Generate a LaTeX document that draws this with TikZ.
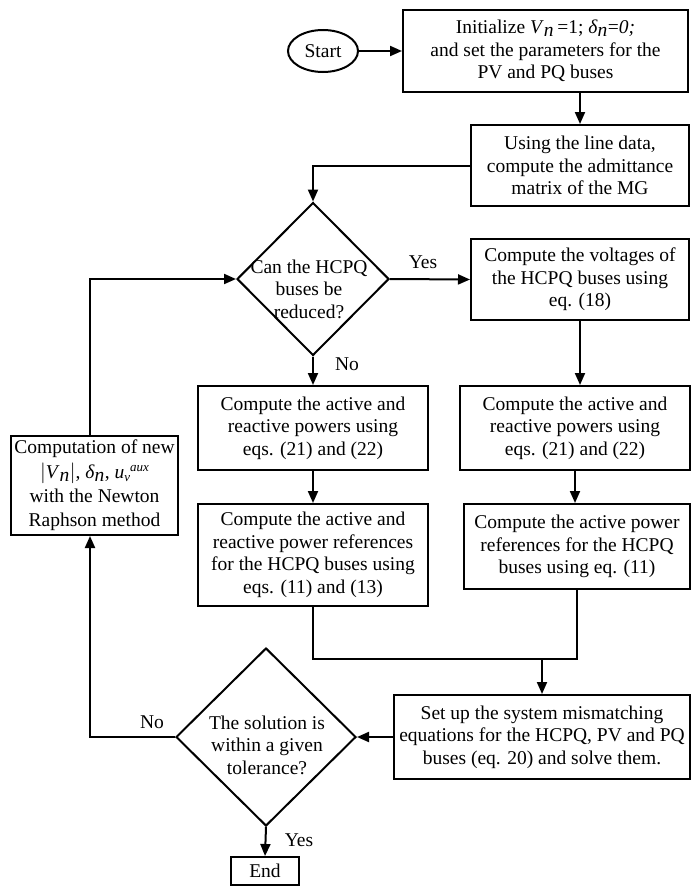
\documentclass[tikz,border=0pt]{standalone}
\usepackage{fontspec}
\setmainfont{Liberation Serif}
\usetikzlibrary{arrows.meta,shapes.geometric}
\newcommand{\supaux}{\raisebox{-0.35ex}{\fontsize{13}{13}\selectfont\itshape v}\raisebox{0.85ex}{\fontsize{13}{13}\selectfont\itshape aux}}
\begin{document}
\begin{tikzpicture}[x=1pt,y=-1pt,line width=2pt,
  txt/.style={font=\fontsize{19.5}{22.5}\selectfont},
  box/.style={txt,draw,rectangle,align=center,inner sep=1pt},
  dia/.style={draw,diamond,inner sep=0pt},
  arr/.style={-{Triangle[length=12pt,width=10pt]}},
  lbl/.style={txt}
]
\useasboundingbox (0,0) rectangle (691,886);

\node[txt,draw,ellipse,minimum width=70,minimum height=42,inner sep=0pt] (start) at (323,51) {Start};
\node[box,minimum width=285,minimum height=82] (init) at (545.5,51)
  {Initialize \textit{V}$_{\textit{n}}$\,=1; \textit{δ}$_{\textit{n}}$=\textit{0;}\\and set the parameters for the\\PV and PQ buses};
\node[box,minimum width=218,minimum height=81] (adm) at (580,165.5)
  {Using the line data,\\compute the admittance\\matrix of the MG};
\node[dia,minimum width=152,minimum height=153] (d1) at (313,279) {};
\node[txt,align=center] at (309,289) {Can the HCPQ\\buses be\\reduced?};
\node[box,minimum width=218,minimum height=81] (volt) at (580,279.5)
  {Compute the voltages of\\the HCPQ buses using\\eq. (18)};
\node[box,minimum width=230,minimum height=84] (L1) at (313,428)
  {Compute the active and\\reactive powers using\\eqs. (21) and (22)};
\node[box,minimum width=230,minimum height=84] (R2) at (575,428)
  {Compute the active and\\reactive powers using\\eqs. (21) and (22)};
\node[box,minimum width=230,minimum height=102] (L2) at (313,555)
  {Compute the active and\\reactive power references\\for the HCPQ buses using\\eqs. (11) and (13)};
\node[box,minimum width=226,minimum height=85] (R3) at (577,546.5)
  {Compute the active power\\references for the HCPQ\\buses using eq. (11)};
\node[box,minimum width=296,minimum height=84] (mis) at (542,737)
  {Set up the system mismatching\\equations for the HCPQ, PV and PQ\\buses (eq. 20) and solve them.};
\node[dia,minimum width=180,minimum height=178] (d2) at (266,737) {};
\node[txt,align=center] at (267,745) {The solution is\\within a given\\tolerance?};
\node[box,minimum width=68,minimum height=28,inner sep=0pt] (end) at (265,871) {End};
\node[box,font=\fontsize{19.5}{24}\selectfont,minimum width=167,minimum height=99,inner sep=0pt] (nr) at (94.5,485.5)
  {Computation of new\\[1pt]$|$\textit{V}$_{\textit{n}}$$|$, \textit{δ}$_{\textit{n}}$, \textit{u}\supaux\\with the Newton\\Raphson method};

\coordinate (m1) at (542,659);

\draw[arr] (start) -- (init);
\draw[arr] (init.south -| adm.north) -- (adm.north);
\draw[arr] (adm.west) -| (d1.north);
\draw[arr] (d1.east) -- (volt.west);
\draw[arr] (d1.south) -- (L1.north);
\draw[arr] (volt.south) -- (volt.south |- R2.north);
\draw[arr] (L1.south) -- (L2.north);
\draw[arr] (R2.south) -- (R2.south |- R3.north);
\draw (L2.south) |- (m1) -| (R3.south);
\draw[arr] (m1) -- (mis.north);
\draw[arr] (mis.west) -- (d2.east);
\draw[arr] (d2.south) -- (end.north);
\draw[arr] (d2.west) -| (90,0 |- nr.south);
\draw[arr] (90,0 |- nr.north) |- (d1.west);

\node[lbl] at (423,262) {Yes};
\node[lbl] at (347,364) {No};
\node[lbl] at (152,722) {No};
\node[lbl] at (299,840) {Yes};
\end{tikzpicture}
\end{document}
